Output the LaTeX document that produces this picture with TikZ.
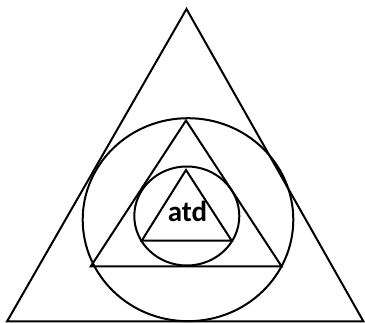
\documentclass[tikz,border=0pt]{standalone}
\usepackage{fontspec}
\setmainfont{Carlito}
\begin{document}
\begin{tikzpicture}[x=1pt,y=-1pt,line width=2pt,line join=miter,
  shapeline/.style={draw=black}]
\useasboundingbox (0,0) rectangle (365,323);
% outer triangle
\coordinate (oa) at (186.5,9);
\coordinate (ol) at (7,321.5);
\coordinate (or) at (363.5,321.5);
\draw[shapeline] (oa) -- (ol) -- (or) -- cycle;
% big circle
\draw[shapeline] (188,219.7) ellipse [x radius=105.3, y radius=101.5];
% middle triangle
\coordinate (ma) at (186,120.5);
\coordinate (ml) at (90.7,266.5);
\coordinate (mr) at (281.7,266.5);
\draw[shapeline] (ma) -- (ml) -- (mr) -- cycle;
% small circle
\draw[shapeline] (186.8,216) ellipse [x radius=52.5, y radius=49.5];
% inner triangle
\coordinate (ia) at (186,170);
\coordinate (il) at (141.7,240.7);
\coordinate (ir) at (231.7,240.7);
\draw[shapeline] (ia) -- (il) -- (ir) -- cycle;
\node[anchor=base, inner sep=0pt, font=\fontsize{29}{30}\selectfont\bfseries] (t) at (187.5,222) {atd};
\end{tikzpicture}
\end{document}
